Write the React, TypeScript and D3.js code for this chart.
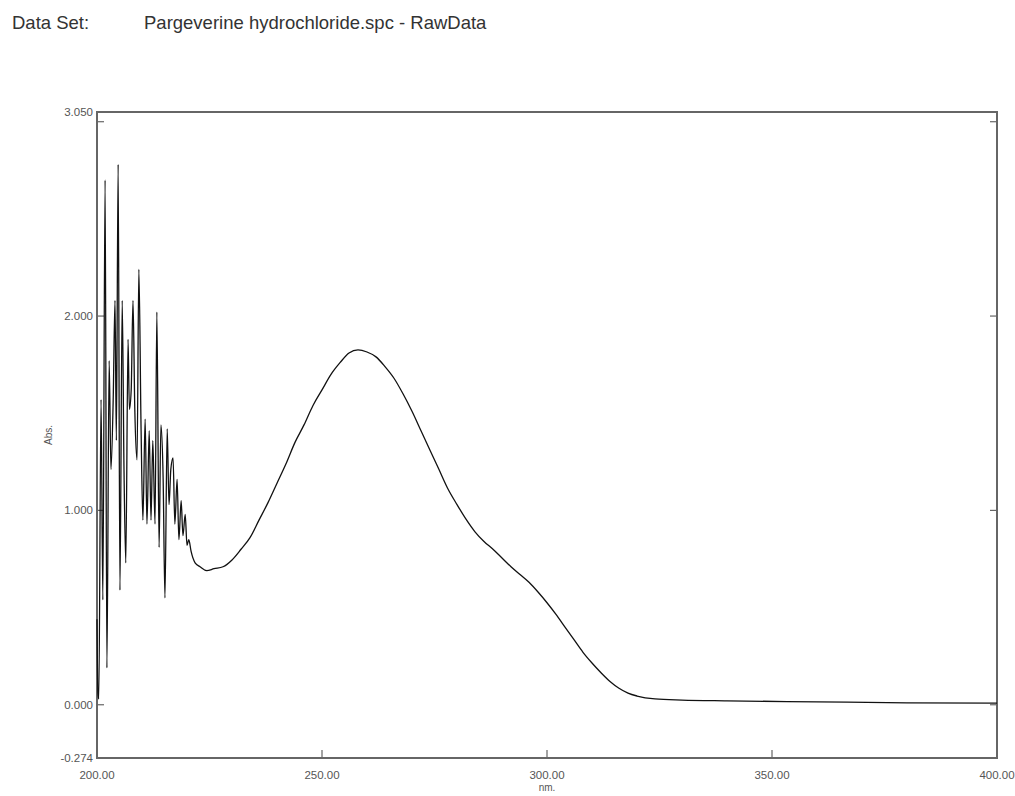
import React from "react";
import * as d3 from "d3";

// wavelength (nm) and absorbance
const wavelengths = [
  200.0, 200.2, 200.4, 200.9, 201.3, 201.8, 202.2, 202.7, 203.1, 203.6, 204.0,
  204.3, 204.7, 205.1, 205.6, 206.0, 206.4, 206.9, 207.2, 207.6, 208.0, 208.4,
  208.9, 209.3, 209.8, 210.2, 210.7, 211.1, 211.6, 212.0, 212.4, 212.9, 213.3,
  213.8, 214.2, 214.7, 215.1, 215.6, 216.0, 216.4, 216.9, 217.3, 217.8, 218.2,
  218.7, 219.1, 219.6, 220.0, 220.4, 220.9, 221.8, 222.9, 224.4, 226, 228, 230,
  232, 234, 236, 238, 240, 242, 244, 246, 248, 250, 252, 254, 256, 258, 260,
  262, 264, 266, 268, 270, 272, 274, 276, 278, 280, 282, 284, 286, 288, 290,
  292, 294, 296, 298, 300, 302, 304, 306, 308, 310, 312, 314, 316, 318, 320,
  324, 330, 340, 360, 380, 400,
];
const absorbance = [
  0.44, 0.06, 0.03, 1.57, 0.54, 2.7, 0.19, 1.77, 1.21, 1.57, 2.08, 1.36, 2.78,
  0.59, 2.08, 1.21, 0.73, 1.88, 1.52, 1.62, 2.08, 1.52, 1.26, 2.24, 1.41, 0.95,
  1.47, 0.93, 1.41, 0.95, 1.36, 0.93, 2.02, 0.81, 1.44, 1.16, 0.55, 1.42, 1.03,
  1.21, 1.27, 0.93, 1.16, 0.85, 1.05, 0.87, 0.98, 0.82, 0.85, 0.79, 0.73, 0.71,
  0.69, 0.7, 0.71, 0.745, 0.8, 0.86, 0.95, 1.04, 1.14, 1.24, 1.35, 1.44, 1.54,
  1.62, 1.7, 1.76, 1.81, 1.826, 1.815, 1.79, 1.74, 1.68, 1.6, 1.51, 1.41, 1.31,
  1.21, 1.11, 1.03, 0.955, 0.89, 0.84, 0.8, 0.755, 0.71, 0.67, 0.63, 0.58,
  0.525, 0.465, 0.4, 0.335, 0.27, 0.215, 0.165, 0.12, 0.085, 0.06, 0.045, 0.03,
  0.024, 0.02, 0.015, 0.01, 0.008,
];

const xTicks = [200, 250, 300, 350, 400];
const yTickMarks = [0, 1, 2, 3];
const yLabels = [-0.274, 0, 1, 2, 3.05];

const App = () => {
  const width = 1015;
  const height = 796;
  const margin = { top: 112, right: 18, bottom: 38, left: 97 };

  const x = d3
    .scaleLinear()
    .domain([200, 400])
    .range([margin.left, width - margin.right]);
  const y = d3
    .scaleLinear()
    .domain([-0.274, 3.05])
    .range([height - margin.bottom, margin.top]);

  const points: [number, number][] = wavelengths.map((w, i) => [w, absorbance[i]]);
  const line = d3
    .line<[number, number]>()
    .x((d) => x(d[0]))
    .y((d) => y(d[1]))
    .curve(d3.curveMonotoneX);

  const left = x(200);
  const right = x(400);
  const top = y(3.05);
  const bottom = y(-0.274);
  const labelColor = "#555";

  return (
    <svg
      width={width}
      height={height}
      style={{ position: "absolute", left: 0, top: 0, fontFamily: "Liberation Sans, Arial, sans-serif" }}
    >
      <rect width={width} height={height} fill="white" />
      <text x={12} y={29} fontSize={18.5} fill="#333">Data Set:</text>
      <text x={144} y={29} fontSize={18.5} fill="#333">Pargeverine hydrochloride.spc - RawData</text>

      {/* frame */}
      <rect
        x={left}
        y={top}
        width={right - left}
        height={bottom - top}
        fill="none"
        stroke="#666"
        strokeWidth={2}
      />

      {/* inward ticks */}
      {yTickMarks.map((t) => (
        <g key={"yt" + t}>
          <line x1={left} x2={left + 7} y1={y(t)} y2={y(t)} stroke="#666" strokeWidth={1.2} />
          <line x1={right} x2={right - 7} y1={y(t)} y2={y(t)} stroke="#666" strokeWidth={1.2} />
        </g>
      ))}
      {xTicks.slice(1, -1).map((t) => (
        <line key={"xt" + t} x1={x(t)} x2={x(t)} y1={bottom} y2={bottom - 8} stroke="#666" strokeWidth={1.2} />
      ))}

      {/* labels */}
      {yLabels.map((t) => (
        <text
          key={"yl" + t}
          x={left - 4}
          y={y(t) + 4}
          textAnchor="end"
          fontSize={11.5}
          fill={labelColor}
        >
          {t.toFixed(3)}
        </text>
      ))}
      {xTicks.map((t) => (
        <text key={"xl" + t} x={x(t)} y={bottom + 21} textAnchor="middle" fontSize={11.5} fill={labelColor}>
          {t.toFixed(2)}
        </text>
      ))}
      <text x={x(300)} y={bottom + 33} textAnchor="middle" fontSize={10} fill={labelColor}>nm.</text>
      <text
        transform={`translate(52, ${(top + bottom) / 2}) rotate(-90)`}
        textAnchor="middle"
        fontSize={10}
        fill={labelColor}
      >
        Abs.
      </text>

      <path d={line(points) || ""} fill="none" stroke="#111" strokeWidth={1.3} strokeLinejoin="round" />
    </svg>
  );
};

export default App;
